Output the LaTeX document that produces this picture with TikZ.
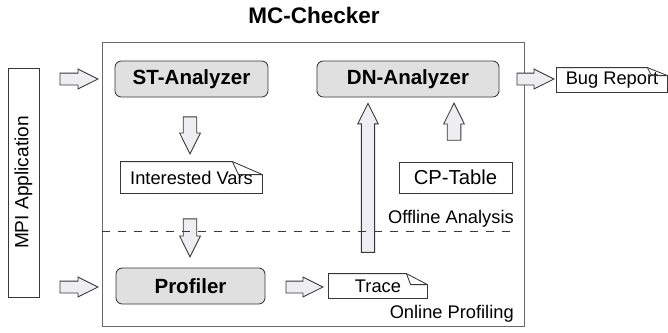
\documentclass[tikz,border=0pt]{standalone}
\usepackage{fontspec}
\setmainfont{Liberation Sans}
\usetikzlibrary{shapes.arrows, positioning, calc}
\definecolor{linegray}{RGB}{55,55,55}
\definecolor{framegray}{RGB}{105,105,105}
\definecolor{boxgray}{RGB}{224,224,224}
\definecolor{arrowgray}{RGB}{238,238,240}
\tikzset{
  basebox/.style={rectangle,draw=linegray,line width=0.6pt,align=center,inner sep=0pt,
    font=\fontsize{13pt}{15pt}\selectfont},
  modnode/.style={basebox,rounded corners=4.5pt,fill=boxgray,minimum height=0.9cm,
    font=\fontsize{14.6pt}{17pt}\selectfont\bfseries},
  docnode/.style={basebox,draw=none,minimum height=0.6cm},
  docline/.style={draw=linegray,line width=0.6pt},
  harr/.style={single arrow,draw=linegray,line width=0.6pt,fill=arrowgray,
    inner sep=0.1375cm,single arrow head extend=0.1cm,single arrow tip angle=53},
  varr/.style={harr,inner sep=0.16cm,single arrow head extend=0.09cm},
  zonelabel/.style={anchor=east,inner sep=0pt,font=\fontsize{13pt}{15pt}\selectfont}
}
%% document with folded corner: name, fold width, fold depth
\newcommand{\docframe}[3]{%
  \draw[docline] (#1.south west) -- (#1.north west) -- ([xshift=-#2]#1.north east)
    -- ([yshift=-#3]#1.north east) -- (#1.south east) -- cycle;
  \draw[docline] ([xshift=-#2]#1.north east) -- ([xshift=-0.8*#2,yshift=-#3]#1.north east)
    -- ([yshift=-#3]#1.north east);
}

\begin{document}
\begin{tikzpicture}[x=0.025cm,y=-0.025cm]
  \useasboundingbox (0,0) rectangle (668,332);

  %% Title
  \node[font=\fontsize{16pt}{19pt}\selectfont\bfseries] (title) at (314,15) {MC-Checker};

  %% Checker frame
  \node[rectangle,draw=framegray,line width=0.6pt,minimum width=10.55cm,minimum height=7.1cm] (checker)
    at (313,184) {};

  %% MPI application
  \node[basebox,minimum width=0.775cm,minimum height=5.725cm] (mpi) at (23.5,182.5) {};
  \node[rotate=90,inner sep=0pt,font=\fontsize{13.6pt}{16pt}\selectfont] (mpilabel) at (mpi.center)
    {MPI Application};

  %% Analysis modules
  \node[modnode,minimum width=3.825cm] (st) at (191.5,79) {ST-Analyzer};
  \node[modnode,minimum width=4.55cm] (dn) at (408,79) {DN-Analyzer};
  \node[modnode,minimum width=3.725cm] (prof) at (190.5,286) {Profiler};

  %% Documents and tables
  \node[docnode,minimum width=3.525cm,minimum height=0.775cm] (vars) at (191.5,177.5) {Interested Vars};
  \node[basebox,minimum width=2.825cm,minimum height=0.775cm,font=\fontsize{14.4pt}{17pt}\selectfont]
    (cp) at (455.5,177.5) {CP-Table};
  \node[docnode,minimum width=2.45cm] (trace) at (378,286) {Trace};
  \node[docnode,minimum width=2.75cm] (bug) at (612,80) {Bug Report};
  \docframe{vars}{0.75cm}{0.325cm}
  \docframe{trace}{0.525cm}{0.275cm}
  \docframe{bug}{0.5cm}{0.2cm}

  %% Zone labels
  \node[zonelabel] (offline) at (514,219) {Offline Analysis};
  \node[zonelabel] (online) at (514,314) {Online Profiling};

  %% Block arrows
  \node[harr,minimum height=0.95cm] (a1) at (73,79) {};
  \node[harr,minimum height=0.95cm] (a2) at (73,287) {};
  \node[harr,minimum height=0.925cm] (a3) at (529.5,79) {};
  \node[harr,minimum height=0.925cm] (a4) at (298.5,287) {};
  \node[varr,rotate=-90,minimum height=0.925cm] (a5) at (190,128.5) {};
  \node[varr,rotate=-90,minimum height=0.95cm] (a6) at (190,231) {};
  \node[varr,rotate=90,inner sep=0.155cm,minimum height=3.725cm] (a7) at (368,184.5) {};
  \node[varr,rotate=90,minimum height=0.925cm] (a8) at (454,128.5) {};

  %% Offline / online border
  \coordinate (cutL) at (checker.west |- 0,231);
  \coordinate (cutR) at (514,231);
  \draw[linegray,line width=0.6pt,dash pattern=on 0.2cm off 0.2cm] (cutL) -- (cutR);

\end{tikzpicture}
\end{document}
